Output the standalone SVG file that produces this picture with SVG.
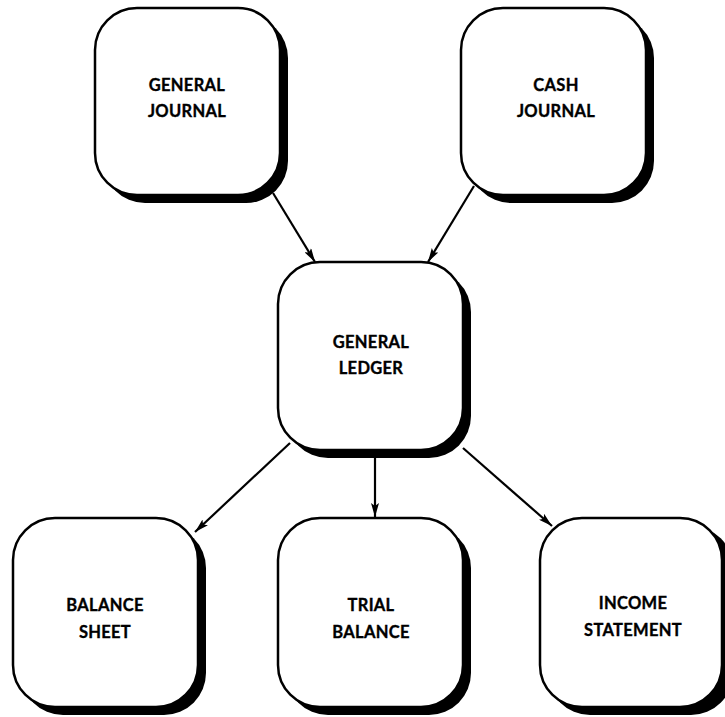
<svg xmlns="http://www.w3.org/2000/svg" width="725" height="717" viewBox="0 0 725 717">
<defs>
<style>
.shadow{fill:#000}
.box{fill:#fff;stroke:#000;stroke-width:2.5}
.lbl{font-family:Lato,"Open Sans","DejaVu Sans",sans-serif;font-weight:bold;font-size:16.5px;fill:#000;stroke:#000;stroke-width:0.35;text-anchor:middle;letter-spacing:0.3px}
.conn{stroke:#000;stroke-width:2.2;fill:none;marker-end:url(#ah)}
</style>
<marker id="ah" viewBox="0 0 14 8" refX="14" refY="4" markerWidth="14" markerHeight="8" markerUnits="userSpaceOnUse" orient="auto">
<path d="M0,0 L14,4 L0,8 L3,4 z" fill="#000"/>
</marker>
</defs>
<rect width="725" height="717" fill="#fff"/>
<g id="connectors">
<line class="conn" x1="273" y1="193" x2="315" y2="262"/>
<line class="conn" x1="474" y1="186" x2="428" y2="262"/>
<line class="conn" x1="290" y1="443" x2="195" y2="532"/>
<line class="conn" x1="375" y1="458" x2="375" y2="517"/>
<line class="conn" x1="463" y1="448" x2="552" y2="526"/>
</g>
<g id="general-journal">
<rect class="shadow" x="103" y="16" width="185" height="187" rx="42"/>
<rect class="box" x="95" y="8" width="185" height="187" rx="42"/>
<text class="lbl" x="187" y="91">GENERAL</text>
<text class="lbl" x="187" y="117">JOURNAL</text>
</g>
<g id="cash-journal">
<rect class="shadow" x="469" y="16" width="185" height="187" rx="42"/>
<rect class="box" x="461" y="8" width="185" height="187" rx="42"/>
<text class="lbl" x="556" y="91">CASH</text>
<text class="lbl" x="556" y="117">JOURNAL</text>
</g>
<g id="general-ledger">
<rect class="shadow" x="286" y="270" width="185" height="188" rx="42"/>
<rect class="box" x="278" y="262" width="185" height="188" rx="42"/>
<text class="lbl" x="371" y="348">GENERAL</text>
<text class="lbl" x="371" y="374">LEDGER</text>
</g>
<g id="balance-sheet">
<rect class="shadow" x="21" y="526" width="185" height="189" rx="42"/>
<rect class="box" x="13" y="518" width="185" height="189" rx="42"/>
<text class="lbl" x="105" y="611">BALANCE</text>
<text class="lbl" x="105" y="638">SHEET</text>
</g>
<g id="trial-balance">
<rect class="shadow" x="286" y="526" width="185" height="189" rx="42"/>
<rect class="box" x="278" y="518" width="185" height="189" rx="42"/>
<text class="lbl" x="371" y="611">TRIAL</text>
<text class="lbl" x="371" y="638">BALANCE</text>
</g>
<g id="income-statement">
<rect class="shadow" x="548" y="526" width="185" height="189" rx="42"/>
<rect class="box" x="540" y="518" width="182" height="189" rx="42"/>
<text class="lbl" x="633" y="609">INCOME</text>
<text class="lbl" x="633" y="636">STATEMENT</text>
</g>
</svg>
